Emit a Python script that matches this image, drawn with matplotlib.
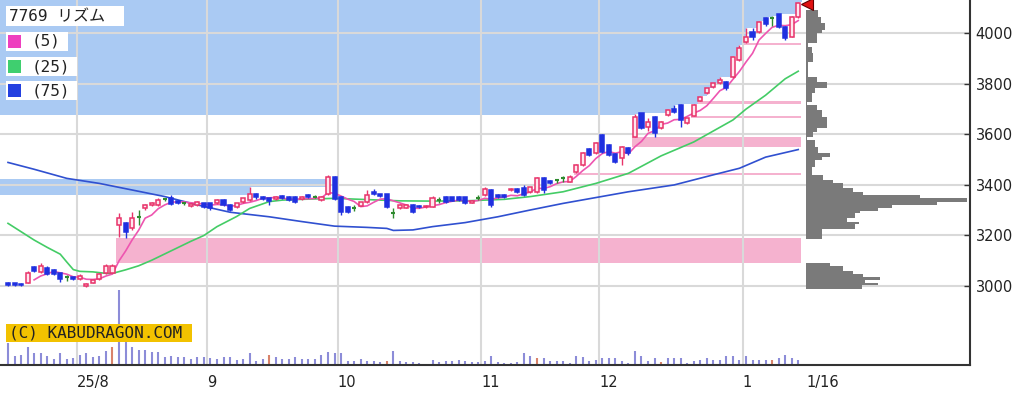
#!/usr/bin/env python
import numpy as np
import pandas as pd
import matplotlib
matplotlib.use("Agg")
import matplotlib.pyplot as plt
from matplotlib.patches import Rectangle

## daily candles, index 0 = 7/16 ... index 121 = 1/16
opens = [3010, 3010, 3008, 3013, 3074, 3057, 3073, 3063, 3050, 3034,
         3034, 3026, 3001, 3012, 3026, 3050, 3052, 3241, 3248, 3228,
         3272, 3307, 3322, 3320, 3343, 3350, 3338, 3327, 3317, 3320,
         3327, 3327, 3327, 3340, 3320, 3314, 3331, 3340, 3363, 3354,
         3347, 3345, 3357, 3354, 3354, 3345, 3360, 3354, 3340, 3363,
         3433, 3354, 3314, 3307, 3318, 3334, 3372, 3363, 3363, 3290,
         3307, 3310, 3320, 3316, 3311, 3314, 3340, 3351, 3351, 3354,
         3351, 3330, 3350, 3360, 3380, 3360, 3360, 3378, 3383, 3387,
         3373, 3373, 3426, 3417, 3420, 3426, 3413, 3450, 3479, 3541,
         3525, 3598, 3558, 3522, 3505, 3545, 3590, 3683, 3630, 3670,
         3624, 3677, 3700, 3716, 3644, 3672, 3733, 3762, 3789, 3802,
         3808, 3828, 3894, 3965, 4006, 4006, 4059, 4062, 4076, 4026,
         3987, 4066]
highs = [3014, 3013, 3012, 3058, 3078, 3090, 3078, 3066, 3053, 3044,
         3037, 3046, 3010, 3024, 3050, 3086, 3088, 3290, 3252, 3294,
         3300, 3325, 3334, 3350, 3350, 3360, 3342, 3333, 3328, 3335,
         3330, 3330, 3344, 3343, 3323, 3330, 3350, 3393, 3368, 3358,
         3350, 3358, 3360, 3357, 3357, 3358, 3364, 3360, 3358, 3440,
         3436, 3358, 3318, 3320, 3334, 3380, 3385, 3366, 3366, 3310,
         3323, 3326, 3324, 3319, 3320, 3356, 3351, 3355, 3354, 3357,
         3354, 3340, 3360, 3392, 3384, 3364, 3363, 3386, 3386, 3400,
         3393, 3430, 3430, 3420, 3422, 3436, 3438, 3482, 3530, 3548,
         3570, 3602, 3561, 3525, 3555, 3551, 3680, 3686, 3665, 3674,
         3653, 3700, 3718, 3719, 3666, 3720, 3752, 3785, 3805, 3826,
         3812, 3912, 3952, 4020, 4020, 4050, 4066, 4068, 4078, 4030,
         4070, 4125]
lows = [3000, 3000, 3000, 3010, 3055, 3053, 3045, 3044, 3017, 3020,
        3022, 3022, 2998, 3010, 3024, 3048, 3050, 3195, 3192, 3222,
        3240, 3302, 3318, 3318, 3336, 3322, 3324, 3320, 3314, 3318,
        3308, 3300, 3324, 3316, 3296, 3310, 3328, 3336, 3345, 3342,
        3320, 3342, 3344, 3337, 3330, 3342, 3348, 3348, 3337, 3360,
        3340, 3280, 3290, 3296, 3315, 3330, 3362, 3352, 3308, 3268,
        3304, 3307, 3290, 3308, 3308, 3312, 3327, 3330, 3335, 3337,
        3323, 3328, 3340, 3356, 3314, 3350, 3350, 3376, 3370, 3355,
        3370, 3370, 3370, 3405, 3406, 3412, 3410, 3446, 3476, 3515,
        3522, 3528, 3515, 3486, 3479, 3520, 3588, 3620, 3612, 3590,
        3620, 3674, 3686, 3630, 3640, 3672, 3733, 3758, 3785, 3798,
        3775, 3824, 3890, 3962, 3975, 4002, 4030, 4030, 4022, 3975,
        3985, 4062]
closes = [3003, 3003, 3003, 3053, 3060, 3079, 3048, 3048, 3026, 3034,
          3026, 3040, 3008, 3022, 3048, 3080, 3080, 3268, 3215, 3268,
          3272, 3320, 3330, 3340, 3343, 3325, 3327, 3327, 3325, 3331,
          3311, 3307, 3340, 3320, 3300, 3327, 3347, 3363, 3354, 3345,
          3336, 3354, 3347, 3340, 3334, 3354, 3351, 3354, 3354, 3433,
          3345, 3294, 3294, 3307, 3331, 3360, 3365, 3356, 3314, 3290,
          3320, 3322, 3294, 3311, 3318, 3347, 3340, 3334, 3338, 3340,
          3327, 3337, 3350, 3382, 3320, 3354, 3354, 3385, 3373, 3360,
          3390, 3426, 3380, 3409, 3420, 3426, 3433, 3479, 3525, 3518,
          3567, 3532, 3518, 3492, 3551, 3525, 3670, 3624, 3650, 3604,
          3650, 3696, 3690, 3657, 3663, 3716, 3749, 3782, 3802, 3815,
          3782, 3908, 3940, 3987, 3987, 4046, 4037, 4062, 4026, 3980,
          4066, 4118]
volumes = [217, 93, 103, 183, 117, 117, 93, 60, 117, 60,
           70, 103, 117, 83, 93, 137, 183, 750, 237, 183,
           153, 153, 127, 133, 83, 93, 77, 77, 60, 83,
           83, 70, 60, 77, 77, 50, 60, 117, 43, 60,
           103, 83, 60, 60, 83, 60, 60, 60, 103, 133,
           117, 117, 37, 37, 60, 37, 37, 27, 37, 137,
           37, 30, 33, 17, 10, 50, 27, 37, 37, 50,
           37, 27, 27, 37, 87, 27, 20, 20, 27, 120,
           93, 70, 70, 37, 37, 37, 20, 87, 77, 37,
           53, 70, 70, 70, 37, 20, 137, 87, 37, 70,
           27, 70, 70, 70, 20, 37, 53, 70, 53, 53,
           87, 87, 53, 87, 53, 53, 53, 53, 70, 103,
           70, 53]
red_vol_days = [16, 40, 58, 81, 100, 117]

month_first_idx = [11, 31, 51, 73, 91, 113]
month_labels = ["25/8", "9", "10", "11", "12", "1"]
last_label = "1/16"

## moving averages
ma25_idx = [0, 2, 4, 6, 8, 9, 10, 11, 13, 15, 16, 18, 20, 22, 24, 26, 28, 30,
            32, 35, 37, 40, 42, 45, 50, 55, 60, 65, 70, 73, 76, 80, 85, 90,
            95, 100, 105, 111, 113, 116, 119, 121]
ma25_val = [3248, 3215, 3182, 3153, 3126, 3095, 3065, 3058, 3056, 3050, 3050,
            3064, 3080, 3102, 3127, 3152, 3177, 3200, 3235, 3275, 3307, 3334,
            3340, 3343, 3347, 3342, 3337, 3336, 3337, 3340, 3343, 3354, 3373,
            3406, 3446, 3515, 3570, 3657, 3700, 3755, 3820, 3850]
ma75_idx = [0, 4, 9, 14, 19, 24, 29, 34, 40, 45, 50, 55, 58, 59, 62, 65, 70,
            75, 80, 85, 90, 95, 102, 108, 112, 116, 121]
ma75_val = [3489, 3462, 3426, 3406, 3380, 3354, 3321, 3292, 3274, 3255, 3237,
            3232, 3228, 3220, 3222, 3235, 3251, 3274, 3301, 3327, 3350, 3373,
            3400, 3440, 3466, 3510, 3540]

## resistance zones (blue) and open gaps (pink)
zone_lo = [3360, 3677]
zone_hi = [3425, 4140]
gap_day = [17, 87, 96, 105, 106, 113]
gap_lo = [3093, 3440, 3551, 3666, 3720, 3954]
gap_hi = [3190, 3448, 3588, 3672, 3733, 3962]

## price-by-volume profile
prof_edges = [4092, 4066, 4040, 4013, 4000, 3960, 3947, 3921, 3888, 3828, 3809,
              3782, 3762, 3730, 3716, 3697, 3670, 3624, 3611, 3591, 3578, 3551,
              3525, 3512, 3499, 3472, 3439, 3420, 3406, 3387, 3373, 3360, 3347,
              3334, 3321, 3308, 3298, 3288, 3268, 3255, 3246, 3224, 3185, 3090,
              3079, 3061, 3048, 3035, 3024, 3013, 3003, 2990]
prof_vol = [123, 147, 190, 157, 107, 23, 57, 67, 23, 107, 207, 90, 57, 13, 107,
            157, 207, 107, 73, 13, 90, 123, 240, 157, 90, 57, 173, 273, 373,
            473, 573, 1140, 1607, 1307, 857, 723, 540, 490, 407, 533, 490, 157,
            0, 240, 373, 473, 573, 740, 590, 723, 557]

yticks = [3000, 3200, 3400, 3600, 3800, 4000]

UP = '#e8336a'
DOWN = '#1f30e0'
DOJI = '#2e8b2e'
BLUE_ZONE = '#aacaf3'
PINK_ZONE = '#f5b2cf'
GRID = '#d9d9d9'

W, H = 1030, 394
def fx(px):
    return px / W
def fy(py):
    return 1 - py / H

fig = plt.figure(figsize=(W / 100, H / 100), dpi=100)
ax = fig.add_axes([0, fy(365), fx(970), 365 / H])
x0, x1 = -1.225, 147.3
y0, y1 = 2687.5, 4131.8
ax.set_xlim(x0, x1)
ax.set_ylim(y0, y1)

idx = np.arange(len(closes))
o = np.array(opens, float)
hi = np.array(highs, float)
lo = np.array(lows, float)
c = np.array(closes, float)
last = idx[-1]

## blue zones, eaten away by the running high
cmax = np.maximum.accumulate(hi)
for zl, zh in zip(zone_lo, zone_hi):
    bottom = np.minimum(np.maximum(zl, cmax), zh)
    xs = np.concatenate([[x0], idx, [last + 0.5]])
    bs = np.concatenate([[zl], bottom, [bottom[-1]]])
    ax.fill_between(xs, bs, zh, step='post', color=BLUE_ZONE, lw=0, zorder=1)

## pink gaps
for d, gl, gh in zip(gap_day, gap_lo, gap_hi):
    ax.fill_between([d - 0.4, last + 0.4], gl, gh, color=PINK_ZONE, lw=0, zorder=1)

## grid
ax.hlines(yticks, x0, x1, color=GRID, lw=1.5, zorder=1.5)
ax.vlines(np.array(month_first_idx) - 0.5, y0, y1, color=GRID, lw=1.5, zorder=1.5)

## volume at the bottom
vol = np.array(volumes, float)
vcol = ['#d9826a' if i in red_vol_days else '#8c8cd8' for i in idx]
ax.vlines(idx, 0, vol / 3650, colors=vcol, lw=1.5,
          transform=ax.get_xaxis_transform(), zorder=2)

## moving averages
ma5 = pd.Series(c).rolling(5).mean()
ax.plot(ma75_idx, ma75_val, color='#3050d0', lw=1.2, zorder=3)
ax.plot(ma25_idx, ma25_val, color='#44cc66', lw=1.2, zorder=3)
ax.plot(idx, ma5, color='#ee55b0', lw=1.2, zorder=3)

## candles
up = c > o
dn = c < o
dj = c == o
bw = 0.62
ax.vlines(idx[up], lo[up], hi[up], color=UP, lw=1, zorder=4)
ax.bar(idx[up], c[up] - o[up], bottom=o[up], width=bw, facecolor='#ffe6ee',
       edgecolor=UP, lw=1.1, zorder=5)
ax.vlines(idx[dn], lo[dn], hi[dn], color=DOWN, lw=1, zorder=4)
ax.bar(idx[dn], o[dn] - c[dn], bottom=c[dn], width=bw, facecolor=DOWN,
       edgecolor=DOWN, lw=1.1, zorder=5)
ax.vlines(idx[dj], lo[dj], hi[dj], color=DOJI, lw=1, zorder=4)
ax.hlines(c[dj], idx[dj] - bw / 2, idx[dj] + bw / 2, color=DOJI, lw=1.5, zorder=5)

## volume profile on the right
pe = np.array(prof_edges, float)
pv = np.array(prof_vol, float)
ax.barh(pe[1:], pv * 0.1 / 6.53, height=pe[:-1] - pe[1:], left=122.2,
        align='edge', color='#7a7a7a', lw=0, zorder=3)
ax.plot(122.35, 4115, marker='<', ms=9, mfc='#e01010', mec='#600000',
        mew=0.8, clip_on=False, zorder=6)

## axes cosmetics
for s in ['left', 'top']:
    ax.spines[s].set_visible(False)
for s in ['right', 'bottom']:
    ax.spines[s].set_color('#333333')
    ax.spines[s].set_linewidth(1.5)
ax.set_xticks([])
ax.yaxis.tick_right()
ax.set_yticks(yticks)
ax.set_yticklabels([str(v) for v in yticks])
ax.tick_params(axis='y', direction='in', length=4, width=1, color='#333333',
               labelsize=10.5, pad=4, labelcolor='#222222')

tr = ax.get_xaxis_transform()
for m, lab in zip(month_first_idx, month_labels):
    ax.text(m - 0.5, -0.049, lab, transform=tr, ha='left', va='center',
            fontsize=10.5, color='#222222')
ax.text(122.2, -0.049, last_label, transform=tr, ha='left', va='center',
        fontsize=10.5, color='#222222')

## legend boxes
def box(px0, py0, px1, py1, color, z=5):
    fig.patches.append(Rectangle((fx(px0), fy(py1)), fx(px1) - fx(px0),
                                 fy(py0) - fy(py1), transform=fig.transFigure,
                                 facecolor=color, edgecolor='none', zorder=z))

box(6, 6, 124, 26, 'white')
fig.text(fx(9), fy(16.5), "7769 リズム", fontsize=11.5, va='center', ha='left',
         family=['DejaVu Sans Mono', 'Noto Sans CJK JP'], color='#222222', zorder=6)
leg = [("(5)", '#ee3fbf', 32), ("(25)", '#3fcf6f', 57), ("(75)", '#2340e0', 81)]
for lab, col, top in leg:
    box(6, top, 68 if lab == "(5)" else 77, top + 19, 'white')
    box(8, top + 3, 21, top + 16, col, z=6)
    fig.text(fx(32), fy(top + 9.5), lab, fontsize=11.5, va='center', ha='left',
             family='DejaVu Sans Mono', color='#222222', zorder=7)

## watermark
box(6, 324, 192, 342, '#f2c200')
fig.text(fx(9), fy(333), "(C) KABUDRAGON.COM", fontsize=11.5, va='center',
         ha='left', family='DejaVu Sans Mono', color='#222222', zorder=7)

fig.savefig("out.png", dpi=100)
